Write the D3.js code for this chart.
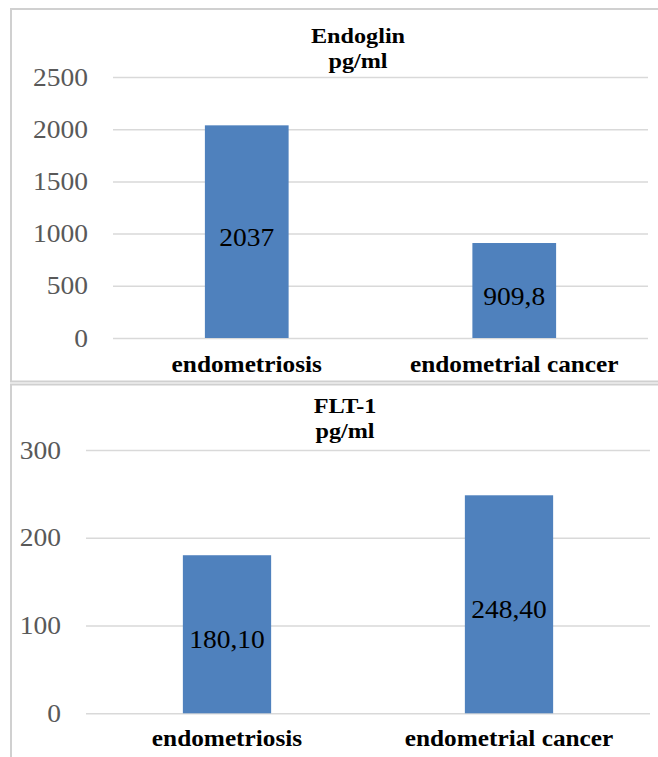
<!DOCTYPE html>
<html>
<head>
<meta charset="utf-8">
<script src="https://cdn.jsdelivr.net/npm/d3@7"></script>
<style>
  html, body { margin: 0; padding: 0; background: #fff; }
  svg { display: block; }
</style>
</head>
<body>
<svg id="chart" width="658" height="757"></svg>
<script>
// ---- data ----
const categories = ["endometriosis", "endometrial cancer"];

const endoglinTitle = ["Endoglin", "pg/ml"];
const endoglinValues = [2037, 909.8];
const endoglinLabels = ["2037", "909,8"];
const endoglinTicks = [0, 500, 1000, 1500, 2000, 2500];

const flt1Title = ["FLT-1", "pg/ml"];
const flt1Values = [180.10, 248.40];
const flt1Labels = ["180,10", "248,40"];
const flt1Ticks = [0, 100, 200, 300];

// ---- drawing ----
const FONT = "Liberation Serif";
const svg = d3.select("#chart");
const SX = 1.1; // horizontal stretch of the reference text

function stretchedText(sel, x, y) {
  return sel.attr("transform", `translate(${x},${y}) scale(${SX},1)`);
}

function panel(cfg) {
  const g = svg.append("g");

  g.append("path")
    .attr("d", cfg.frame)
    .attr("fill", "none")
    .attr("stroke", "#d0d0d0")
    .attr("stroke-width", 2);

  const x = d3.scaleBand().domain(categories).range([cfg.x0, cfg.x1]).padding(0);
  const y = d3.scaleLinear().domain([0, cfg.max]).range([cfg.yBottom, cfg.yTop]);

  const axis = d3.axisLeft(y)
    .tickValues(cfg.ticks)
    .tickSize(-(cfg.x1 - cfg.x0))
    .tickFormat(d3.format("d"));
  const ag = g.append("g")
    .attr("transform", `translate(${cfg.x0},0)`)
    .call(axis)
    .attr("font-family", FONT)
    .attr("font-size", 25);
  ag.select(".domain").remove();
  ag.selectAll(".tick line")
    .attr("stroke", "#d9d9d9")
    .attr("stroke-width", 1.5);
  ag.selectAll(".tick text")
    .attr("x", null)
    .attr("dy", null)
    .attr("fill", "#595959")
    .attr("font-family", FONT)
    .attr("font-size", 25)
    .attr("text-anchor", "end")
    .attr("dominant-baseline", "central")
    .attr("transform", `translate(${-cfg.labelGap},0) scale(${SX},1)`);

  const barFrac = 0.313;
  const bw = x.bandwidth() * barFrac;

  g.selectAll("rect.bar")
    .data(cfg.values)
    .join("rect")
    .attr("class", "bar")
    .attr("x", (d, i) => x(categories[i]) + (x.bandwidth() - bw) / 2)
    .attr("width", bw)
    .attr("y", d => y(d))
    .attr("height", d => y(0) - y(d))
    .attr("fill", "#4f81bd");

  g.selectAll("text.val")
    .data(cfg.values)
    .join("text")
    .attr("class", "val")
    .attr("font-family", FONT)
    .attr("font-size", 25)
    .attr("fill", "#000")
    .attr("text-anchor", "middle")
    .attr("dominant-baseline", "central")
    .text((d, i) => cfg.labels[i])
    .each(function (d, i) {
      stretchedText(d3.select(this),
        x(categories[i]) + x.bandwidth() / 2,
        (y(d) + y(0)) / 2 + 6);
    });

  g.selectAll("text.cat")
    .data(categories)
    .join("text")
    .attr("class", "cat")
    .attr("font-family", FONT)
    .attr("font-size", 23)
    .attr("font-weight", "bold")
    .attr("fill", "#000")
    .attr("text-anchor", "middle")
    .text(d => d)
    .each(function (d) {
      stretchedText(d3.select(this), x(d) + x.bandwidth() / 2, y(0) + cfg.catGap);
    });

  cfg.title.forEach((t, i) => {
    g.append("text")
      .attr("font-family", FONT)
      .attr("font-size", 22)
      .attr("font-weight", "bold")
      .attr("fill", "#000")
      .attr("text-anchor", "middle")
      .text(t)
      .call(s => stretchedText(s, cfg.titleX, cfg.titleY + i * 25));
  });
}

panel({
  frame: "M658,9 H11 V381.5 H658",
  x0: 113, x1: 648, yTop: 77, yBottom: 338, max: 2500,
  ticks: endoglinTicks, values: endoglinValues, labels: endoglinLabels,
  title: endoglinTitle, titleX: 358, titleY: 43,
  labelGap: 25, catGap: 33.5
});

panel({
  frame: "M658,384.5 H11 V760",
  x0: 86, x1: 650, yTop: 450, yBottom: 713.3, max: 300,
  ticks: flt1Ticks, values: flt1Values, labels: flt1Labels,
  title: flt1Title, titleX: 345, titleY: 413,
  labelGap: 25, catGap: 33
});
</script>
</body>
</html>
